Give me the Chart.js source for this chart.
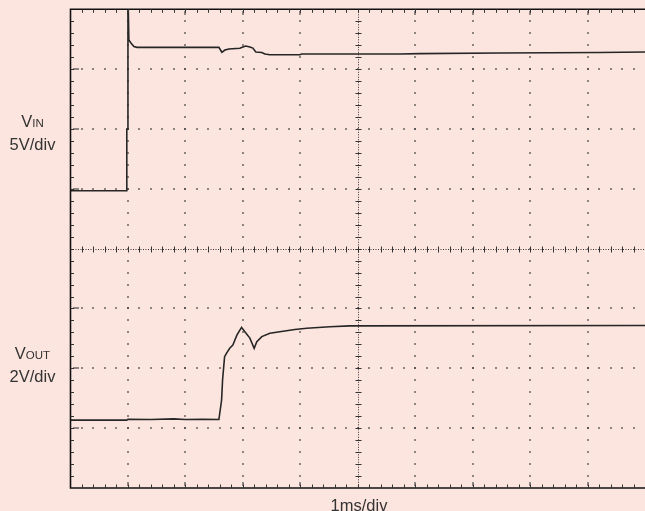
<!DOCTYPE html>
<html>
<head>
<meta charset="utf-8">
<script src="https://cdn.jsdelivr.net/npm/chart.js@4/dist/chart.umd.min.js"></script>
<style>
  html, body { margin:0; padding:0; background:#fce5de; overflow:hidden; }
  #wrap { position:relative; width:645px; height:511px; }
  canvas { position:absolute; left:0; top:0; }
  .lbl { position:absolute; left:0; width:65px; text-align:center;
         font-family:"Liberation Sans", Arial, sans-serif; font-size:16.5px;
         line-height:20.5px; color:#333; }
  .sc { font-size:11.5px; }
  #xlbl { position:absolute; left:259px; width:200px; top:495px; text-align:center;
          font-family:"Liberation Sans", Arial, sans-serif; font-size:16.5px;
          line-height:20px; color:#333; }
</style>
</head>
<body>
<div id="wrap">
  <canvas id="c" width="645" height="511"></canvas>
  <div class="lbl" style="top:111px">V<span class="sc">IN</span><br>5V/div</div>
  <div class="lbl" style="top:343px">V<span class="sc">OUT</span><br>2V/div</div>
  <div id="xlbl">1ms/div</div>
</div>
<script>
// ---- data (time in ms, voltages in V) ----
const vinTime = [0, 0.977, 0.98, 0.998, 1.0, 1.016, 1.052, 1.104, 1.157, 1.383, 2.583, 2.635, 2.687, 2.757, 2.948, 3.0, 3.052, 3.122, 3.174, 3.226, 3.33, 3.383, 3.47, 3.991, 4.026, 5.73, 6.078, 7.47, 9.209, 10];
const vinVolts = [-0.16, -0.16, 5.0, 5.0, 16.5, 12.43, 12.18, 11.89, 11.82, 11.82, 11.82, 11.41, 11.6, 11.68, 11.74, 11.85, 11.93, 11.85, 11.76, 11.43, 11.39, 11.26, 11.2, 11.2, 11.26, 11.26, 11.3, 11.35, 11.39, 11.43];
const voutTime = [0, 0.98, 1.0, 1.4, 1.8, 2.0, 2.3, 2.583, 2.63, 2.647, 2.682, 2.717, 2.774, 2.826, 2.896, 2.977, 3.035, 3.122, 3.197, 3.243, 3.33, 3.47, 3.643, 3.904, 4.113, 4.513, 4.861, 10];
const voutVolts = [0.27, 0.27, 0.30, 0.29, 0.31, 0.29, 0.30, 0.29, 0.94, 1.61, 2.39, 2.51, 2.68, 2.78, 3.11, 3.37, 3.22, 3.01, 2.67, 2.89, 3.06, 3.17, 3.22, 3.30, 3.34, 3.39, 3.42, 3.43];
// scope settings
const xDivs = 10, msPerDiv = 1;
const yDivs = 8;
const vinPerDiv = 5, vinZeroDiv = 5;   // VIN ground marker 5 div from bottom
const voutPerDiv = 2, voutZeroDiv = 1; // VOUT ground marker 1 div from bottom

const pts = (t, v) => t.map((x, i) => ({ x, y: v[i] }));

const scopeGrid = {
  id: 'scopeGrid',
  beforeDatasetsDraw(chart) {
    const { ctx, chartArea: a, scales } = chart;
    const x = scales.x, y = scales.yIn;
    const yMin = -vinZeroDiv * vinPerDiv;
    const xp = d => x.getPixelForValue(d * msPerDiv);
    const yp = d => y.getPixelForValue(yMin + d * vinPerDiv);
    ctx.save();
    ctx.fillStyle = '#3a3a3a';
    const dot = (px, py) => ctx.fillRect(Math.round(px) - 0.75, Math.round(py) - 0.75, 1.5, 1.5);
    // regular dotted grid lines (dots every 1/5 division)
    for (let i = 1; i < xDivs; i++) {
      if (i === xDivs / 2) continue;
      for (let k = 1; k < yDivs * 5; k++) dot(xp(i), yp(k / 5));
      dot(xp(i), a.top + 3); dot(xp(i), a.top + 5);
      dot(xp(i), a.bottom - 3); dot(xp(i), a.bottom - 5);
    }
    for (let j = 1; j < yDivs; j++) {
      if (j === yDivs / 2) continue;
      for (let k = 1; k < xDivs * 5; k++) dot(xp(k / 5), yp(j));
      dot(a.left + 3, yp(j)); dot(a.left + 5, yp(j)); dot(a.left + 7, yp(j));
    }
    // center cross: dense dotted lines + ticks
    ctx.strokeStyle = '#333';
    ctx.lineWidth = 1;
    const cx = Math.round(xp(xDivs / 2)) + 0.5, cy = Math.round(yp(yDivs / 2)) + 0.5;
    ctx.setLineDash([1, 1.5]);
    ctx.beginPath();
    ctx.moveTo(cx, a.top); ctx.lineTo(cx, a.bottom);
    ctx.moveTo(a.left, cy); ctx.lineTo(a.right, cy);
    ctx.stroke();
    ctx.setLineDash([]);
    ctx.beginPath();
    for (let k = 1; k < yDivs * 5; k++) { const py = Math.round(yp(k / 5)) + 0.5; ctx.moveTo(cx - 3, py); ctx.lineTo(cx + 3, py); }
    for (let k = 1; k < xDivs * 5; k++) { const px = Math.round(xp(k / 5)) + 0.5; ctx.moveTo(px, cy - 3); ctx.lineTo(px, cy + 3); }
    ctx.stroke();
    ctx.restore();
  },
  afterDatasetsDraw(chart) {
    const { ctx, chartArea: a, scales } = chart;
    const x = scales.x, y = scales.yIn;
    const yMin = -vinZeroDiv * vinPerDiv;
    const xp = d => x.getPixelForValue(d * msPerDiv);
    const yp = d => y.getPixelForValue(yMin + d * vinPerDiv);
    ctx.save();
    ctx.strokeStyle = '#111';
    ctx.lineWidth = 1.6;
    ctx.beginPath();
    ctx.moveTo(a.right + 2, a.top); ctx.lineTo(a.left, a.top); ctx.lineTo(a.left, a.bottom); ctx.lineTo(a.right + 2, a.bottom);
    ctx.stroke();
    ctx.lineWidth = 1;
    ctx.strokeStyle = '#333';
    ctx.beginPath();
    for (let k = 1; k < xDivs * 5; k++) {
      const px = Math.round(xp(k / 5)) + 0.5;
      ctx.moveTo(px, a.top); ctx.lineTo(px, a.top + 3.5);
      ctx.moveTo(px, a.bottom); ctx.lineTo(px, a.bottom - 3.5);
    }
    for (let k = 1; k < yDivs * 5; k++) {
      const py = Math.round(yp(k / 5)) + 0.5;
      ctx.moveTo(a.left, py); ctx.lineTo(a.left + 3.5, py);
    }
    ctx.stroke();
    ctx.restore();
  }
};

new Chart(document.getElementById('c'), {
  type: 'line',
  data: {
    datasets: [
      { label: 'VIN', data: pts(vinTime, vinVolts), yAxisID: 'yIn',
        borderColor: '#262626', borderWidth: 1.6, pointRadius: 0, tension: 0, fill: false },
      { label: 'VOUT', data: pts(voutTime, voutVolts), yAxisID: 'yOut',
        borderColor: '#262626', borderWidth: 1.6, pointRadius: 0, tension: 0, fill: false }
    ]
  },
  options: {
    responsive: false,
    animation: false,
    devicePixelRatio: 1,
    layout: { padding: { left: 70.5, top: 9.3, right: 0, bottom: 23 } },
    scales: {
      x: { type: 'linear', min: 0, max: xDivs * msPerDiv, display: false },
      yIn: { type: 'linear', min: -vinZeroDiv * vinPerDiv, max: (yDivs - vinZeroDiv) * vinPerDiv, display: false },
      yOut: { type: 'linear', min: -voutZeroDiv * voutPerDiv, max: (yDivs - voutZeroDiv) * voutPerDiv, display: false }
    },
    plugins: { legend: { display: false }, tooltip: { enabled: false }, title: { display: false } }
  },
  plugins: [scopeGrid]
});
</script>
</body>
</html>
